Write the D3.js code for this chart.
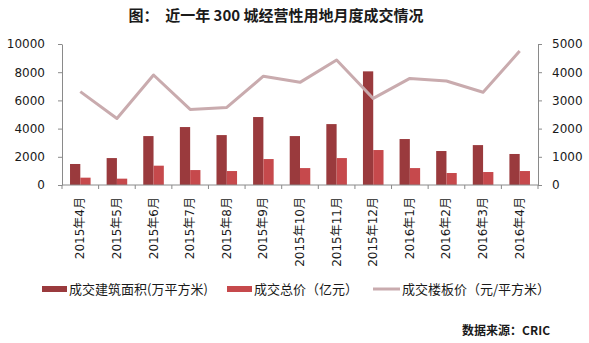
<!DOCTYPE html>
<html>
<head>
<meta charset="utf-8">
<script src="https://cdn.jsdelivr.net/npm/d3@7/dist/d3.min.js"></script>
<style>
  html, body { margin: 0; padding: 0; background: #ffffff; }
  svg { display: block; }
  text { font-family: "DejaVu Sans", "Noto Sans CJK SC", sans-serif; fill: #1a1a1a; }
  .cjk { font-family: "Noto Sans CJK SC", sans-serif; }
</style>
</head>
<body>
<svg id="chart" width="589" height="343"></svg>
<script>
// Monthly land transactions, 300 cities
const months = ["2015年4月","2015年5月","2015年6月","2015年7月","2015年8月","2015年9月",
                "2015年10月","2015年11月","2015年12月","2016年1月","2016年2月","2016年3月","2016年4月"];
const floorArea  = [1490, 1910, 3470, 4110, 3540, 4820, 3470, 4320, 8060, 3260, 2410, 2830, 2200]; // 万平方米
const totalPrice = [520, 450, 1370, 1060, 990, 1840, 1200, 1910, 2480, 1200, 850, 920, 990];       // 亿元
const unitPrice  = [3310, 2360, 3900, 2680, 2750, 3860, 3640, 4430, 3070, 3780, 3690, 3290, 4750];  // 元/平方米
const leftTicks  = [0, 2000, 4000, 6000, 8000, 10000];
const rightTicks = [0, 1000, 2000, 3000, 4000, 5000];

const colArea = "#9a3a3d", colPrice = "#c6494c", colLine = "#c9abae", colAxis = "#8a8a8a";

const svg = d3.select("#chart");
const plot = { left: 62, right: 538, top: 44, bottom: 185 };

const x = d3.scaleBand().domain(months).range([plot.left, plot.right]).padding(0);
const sub = d3.scaleBand().domain(["area", "price"]).range([0, x.bandwidth()]).paddingInner(0).paddingOuter(0.78);
const yL = d3.scaleLinear().domain([0, 10000]).range([plot.bottom, plot.top]);
const yR = d3.scaleLinear().domain([0, 5000]).range([plot.bottom, plot.top]);

// title
svg.append("text").attr("class", "cjk")
  .attr("x", 276).attr("y", 21).attr("text-anchor", "middle")
  .style("font-size", "15px").style("font-weight", "bold").style("white-space", "pre")
  .text("图：  近一年 300 城经营性用地月度成交情况");

// bars
const g = svg.append("g");
g.selectAll("rect.area").data(months).join("rect").attr("class", "area")
  .attr("x", (d) => x(d) + sub("area"))
  .attr("width", sub.bandwidth())
  .attr("y", (d, i) => yL(floorArea[i]))
  .attr("height", (d, i) => yL(0) - yL(floorArea[i]))
  .attr("fill", colArea);
g.selectAll("rect.price").data(months).join("rect").attr("class", "price")
  .attr("x", (d) => x(d) + sub("price"))
  .attr("width", sub.bandwidth())
  .attr("y", (d, i) => yL(totalPrice[i]))
  .attr("height", (d, i) => yL(0) - yL(totalPrice[i]))
  .attr("fill", colPrice);

// unit price line (right axis)
const line = d3.line()
  .x((d, i) => x(months[i]) + x.bandwidth() / 2)
  .y((d) => yR(d));
g.append("path").datum(unitPrice)
  .attr("d", line).attr("fill", "none")
  .attr("stroke", colLine).attr("stroke-width", 3).attr("stroke-linejoin", "round");

// left axis
const axL = svg.append("g").attr("transform", `translate(${plot.left},0)`)
  .call(d3.axisLeft(yL).tickValues(leftTicks).tickSize(4).tickSizeOuter(0).tickPadding(13).tickFormat(d3.format("d")));
// right axis
const axR = svg.append("g").attr("transform", `translate(${plot.right},0)`)
  .call(d3.axisRight(yR).tickValues(rightTicks).tickSize(4).tickSizeOuter(0).tickPadding(10).tickFormat(d3.format("d")));
[axL, axR].forEach((ax) => {
  ax.selectAll("path, line").attr("stroke", colAxis);
  ax.selectAll("text").style("font-size", "12px").attr("fill", "#1a1a1a");
});

// category axis with ticks at band boundaries
const axB = svg.append("g").attr("transform", `translate(0,${plot.bottom})`);
axB.append("line").attr("x1", plot.left).attr("x2", plot.right).attr("stroke", colAxis);
const bounds = months.map((m) => x(m)).concat([x.range()[1]]);
axB.selectAll("line.tk").data(bounds).join("line").attr("class", "tk")
  .attr("x1", (d) => d).attr("x2", (d) => d).attr("y1", 0).attr("y2", 4).attr("stroke", colAxis);
axB.selectAll("text").data(months).join("text")
  .attr("transform", (d) => `translate(${x(d) + x.bandwidth() / 2 + 4},12) rotate(-90)`)
  .attr("text-anchor", "end")
  .style("font-size", "12px")
  .text((d) => d);

// legend
const legend = [
  { label: "成交建筑面积(万平方米)", color: colArea, type: "rect", x: 42 },
  { label: "成交总价（亿元）", color: colPrice, type: "rect", x: 227 },
  { label: "成交楼板价（元/平方米）", color: colLine, type: "line", x: 373 }
];
const lg = svg.append("g");
legend.forEach((d) => {
  if (d.type === "rect") {
    lg.append("rect").attr("x", d.x).attr("y", 286).attr("width", 25).attr("height", 6).attr("fill", d.color);
  } else {
    lg.append("line").attr("x1", d.x).attr("x2", d.x + 27).attr("y1", 289).attr("y2", 289)
      .attr("stroke", d.color).attr("stroke-width", 3);
  }
  lg.append("text").attr("class", "cjk")
    .attr("x", d.x + (d.type === "rect" ? 27 : 29)).attr("y", 294)
    .style("font-size", "13px").attr("fill", "#1a1a1a").text(d.label);
});

// source note
svg.append("text").attr("class", "cjk")
  .attr("x", 550).attr("y", 335).attr("text-anchor", "end")
  .style("font-size", "12px").style("font-weight", "bold")
  .text("数据来源：CRIC");
</script>
</body>
</html>
